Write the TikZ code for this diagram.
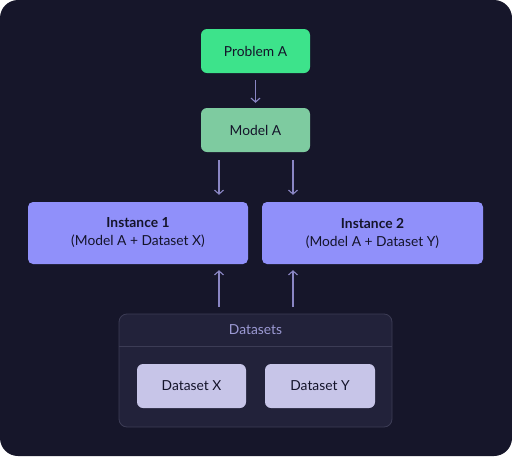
\documentclass[tikz,border=0pt]{standalone}
\usepackage{fontspec}
\setmainfont{Lato}
\usetikzlibrary{arrows.meta}
\definecolor{bg}{HTML}{16162A}
\definecolor{probc}{HTML}{3DE38B}
\definecolor{modc}{HTML}{7ECBA0}
\definecolor{instc}{HTML}{9090FA}
\definecolor{dsc}{HTML}{C7C5E8}
\definecolor{contc}{HTML}{22223A}
\definecolor{contl}{HTML}{3C3C55}
\definecolor{arrc}{HTML}{8A86C4}
\definecolor{hdrc}{HTML}{9C9AD4}
\definecolor{txt}{HTML}{14142A}
\tikzset{
  box/.style={rounded corners=6pt, inner sep=0pt, align=center, text=txt, font=\fontsize{13.8}{18}\selectfont},
  conn/.style={draw=arrc, line width=1.1pt, -{Straight Barb[length=4pt,width=9pt]}, shorten >=7pt},
}
\begin{document}
\begin{tikzpicture}[x=1pt,y=-1pt]
\useasboundingbox (0,0) rectangle (512,456);
\fill[bg, rounded corners=18pt] (0,0) rectangle (512,456);
% nodes
\node[box, fill=probc, minimum width=109pt, minimum height=44pt] (prob) at (255.5,51) {Problem A};
\node[box, fill=modc, minimum width=109pt, minimum height=44pt] (mod) at (255.5,130) {Model A};
\node[box, fill=instc, minimum width=220pt, minimum height=62pt, rounded corners=5pt] (i1) at (138,233) {\textbf{Instance 1}\\(Model A + Dataset X)};
\node[box, fill=instc, minimum width=221pt, minimum height=62pt, rounded corners=5pt] (i2) at (372.5,233) {\textbf{Instance 2}\\(Model A + Dataset Y)};
% container
\node[draw=contl, line width=0.8pt, fill=contc, rounded corners=8pt, minimum width=273pt, minimum height=113pt, inner sep=0pt] (cont) at (255.5,370.5) {};
\coordinate (divl) at (119,346);
\coordinate (divr) at (392,346);
\draw[contl, line width=0.8pt] (divl) -- (divr);
\node[text=hdrc, font=\fontsize{13.8}{17}\selectfont] (hdr) at (255.5,330) {Datasets};
\node[box, fill=dsc, minimum width=109pt, minimum height=44pt] (dx) at (191.5,386) {Dataset X};
\node[box, fill=dsc, minimum width=110pt, minimum height=44pt] (dy) at (320,386) {Dataset Y};
% connectors
\coordinate (p1) at (255.5,80);
\draw[conn, shorten >=5pt] (p1) -- (mod.north);
\coordinate (m1) at (219,160);
\coordinate (m2) at (293,160);
\draw[conn] (m1) -- (m1 |- i1.north);
\draw[conn] (m2) -- (m2 |- i2.north);
\coordinate (d1) at (219,307);
\coordinate (d2) at (293,307);
\draw[conn, shorten >=6pt] (d1) -- (d1 |- i1.south);
\draw[conn, shorten >=6pt] (d2) -- (d2 |- i2.south);
\end{tikzpicture}
\end{document}
